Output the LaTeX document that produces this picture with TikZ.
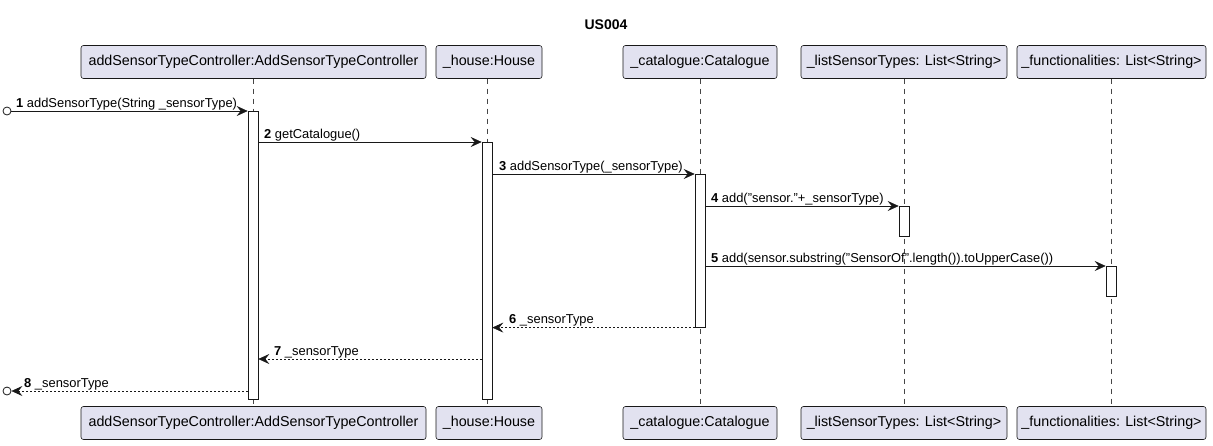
\documentclass[tikz,border=0pt]{standalone}
\usepackage{fontspec}
\setmainfont{Liberation Sans}
\usetikzlibrary{arrows.meta}
\definecolor{pfill}{HTML}{E2E2F0}
\definecolor{pline}{HTML}{181818}
\begin{document}
\begin{tikzpicture}[x=1pt,y=-1pt,
 part/.style={draw=pline, fill=pfill, rounded corners=2.5pt, minimum height=33pt, inner xsep=2pt, font=\fontsize{14.3}{16}\selectfont, line width=0.6pt},
 life/.style={draw=pline!80, dash pattern=on 5pt off 5pt, line width=0.5pt},
 act/.style={draw=pline, fill=white, minimum width=10pt, inner sep=0pt, line width=0.6pt, anchor=north},
 msg/.style={draw=pline, -{Stealth[length=11pt,width=10pt,inset=4pt]}, line width=0.6pt},
 ret/.style={msg, dash pattern=on 2pt off 2pt},
 lbl/.style={font=\fontsize{12.9}{15}\selectfont, anchor=base west, inner sep=0pt},
 endc/.style={circle, draw=pline, line width=0.8pt, minimum size=8pt, inner sep=0pt}]
\useasboundingbox (0,0) rectangle (1213,445);
\node[font=\bfseries\fontsize{14}{16}\selectfont] (title) at (606,25) {US004};
% participants top
\node[part, minimum width=345pt] (A) at (253.5,62) {addSensorTypeController:AddSensorTypeController};
\node[part, minimum width=106pt] (B) at (489,62) {\_house:House};
\node[part, minimum width=154pt] (C) at (700,62) {\_catalogue:Catalogue};
\node[part, minimum width=206pt] (D) at (904,62) {\_listSensorTypes: List<String>};
\node[part, minimum width=189pt] (E) at (1111.5,62) {\_functionalities: List<String>};
% participants bottom
\node[part, minimum width=345pt] (A2) at (253.5,423) {addSensorTypeController:AddSensorTypeController};
\node[part, minimum width=106pt] (B2) at (489,423) {\_house:House};
\node[part, minimum width=154pt] (C2) at (700,423) {\_catalogue:Catalogue};
\node[part, minimum width=206pt] (D2) at (904,423) {\_listSensorTypes: List<String>};
\node[part, minimum width=189pt] (E2) at (1111.5,423) {\_functionalities: List<String>};
% lifelines
\draw[life] (253,78.5) -- (253,406.5);
\draw[life] (487,78.5) -- (487,406.5);
\draw[life] (700,78.5) -- (700,406.5);
\draw[life] (904,78.5) -- (904,406.5);
\draw[life] (1111,78.5) -- (1111,406.5);
% activations
\node[act, minimum height=288pt] (aA) at (253,111) {};
\node[act, minimum height=257pt] (aB) at (487,142) {};
\node[act, minimum height=153pt] (aC) at (700,174) {};
\node[act, minimum height=30pt] (aD) at (904,206) {};
\node[act, minimum height=30pt] (aE) at (1111,266) {};
% end circles
\node[endc] (o1) at (7,111) {};
\node[endc] (o8) at (7,391) {};
\coordinate (m7) at (487,359);
\coordinate (m8) at (253,391);
% messages
\draw[msg] (o1.east) -- (aA.north west);
\node[lbl] (l1) at (16,107) {\textbf{1} addSensorType(String \_sensorType)};
\draw[msg] (aA.east |- aB.north) -- (aB.north west);
\node[lbl] (l2) at (264,138) {\textbf{2} getCatalogue()};
\draw[msg] (aB.east |- aC.north) -- (aC.north west);
\node[lbl] (l3) at (499,170) {\textbf{3} addSensorType(\_sensorType)};
\draw[msg] (aC.east |- aD.north) -- (aD.north west);
\node[lbl] (l4) at (711,202) {\textbf{4} add("sensor."+\_sensorType)};
\draw[msg] (aC.east |- aE.north) -- (aE.north west);
\node[lbl] (l5) at (711,262) {\textbf{5} add(sensor.substring("SensorOf".length()).toUpperCase())};
\draw[ret] (aC.south west) -- (aB.east |- aC.south);
\node[lbl] (l6) at (509,323) {\textbf{6} \_sensorType};
\draw[ret] (aB.west |- m7) -- (aA.east |- m7);
\node[lbl] (l7) at (274,355) {\textbf{7} \_sensorType};
\draw[ret] (aA.west |- m8) -- (o8.east);
\node[lbl] (l8) at (24,387) {\textbf{8} \_sensorType};
\end{tikzpicture}
\end{document}
